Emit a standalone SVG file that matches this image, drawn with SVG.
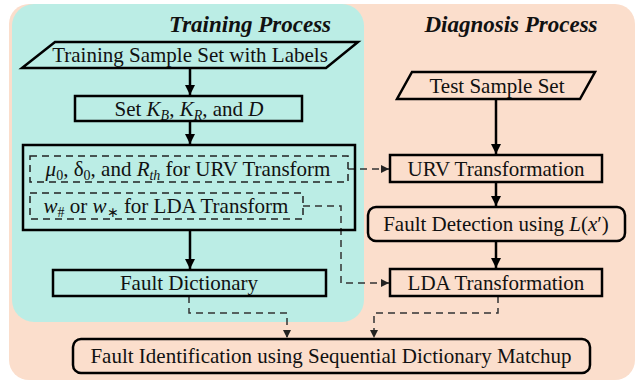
<svg xmlns="http://www.w3.org/2000/svg" width="639" height="382" viewBox="0 0 639 382">
<style>
.t{font-family:'Liberation Serif','Times New Roman',serif;font-size:21px;fill:#111;text-anchor:middle}
.h{font-family:'Liberation Serif','Times New Roman',serif;font-size:23px;font-weight:bold;font-style:italic;fill:#111;text-anchor:middle}
.i{font-style:italic}
.s{font-size:14px}
.box{fill:none;stroke:#000;stroke-width:2.5}
.dbox{fill:none;stroke:#222;stroke-width:1.5;stroke-dasharray:7 5}
.arr{fill:none;stroke:#000;stroke-width:2.5}
.dash{fill:none;stroke:#333;stroke-width:1.5;stroke-dasharray:7 5}
</style>
<defs>
<marker id="ah" markerWidth="10" markerHeight="10" refX="10" refY="5" orient="auto" markerUnits="userSpaceOnUse">
<path d="M0,0 L10,5 L0,10 Z" fill="#000"/>
</marker>
<marker id="dh" markerWidth="8" markerHeight="8" refX="8" refY="4" orient="auto" markerUnits="userSpaceOnUse">
<path d="M0,0 L8,4 L0,8 Z" fill="#222"/>
</marker>
</defs>
<g id="backgrounds">
<rect x="9" y="4" width="626" height="376" rx="20" fill="#fbdecc"/>
<rect x="12" y="4" width="352" height="318" rx="22" fill="#bbede5"/>
</g>
<g id="titles">
<text class="h" x="250" y="32">Training Process</text>
<text class="h" x="511" y="32">Diagnosis Process</text>
</g>
<g id="connectors">
<line class="arr" x1="190" y1="68" x2="190" y2="95" marker-end="url(#ah)"/>
<line class="arr" x1="190" y1="121" x2="190" y2="144" marker-end="url(#ah)"/>
<line class="arr" x1="190" y1="230" x2="190" y2="269" marker-end="url(#ah)"/>
<line class="arr" x1="496" y1="99" x2="496" y2="154" marker-end="url(#ah)"/>
<line class="arr" x1="496" y1="182" x2="496" y2="206" marker-end="url(#ah)"/>
<line class="arr" x1="496" y1="241" x2="496" y2="268" marker-end="url(#ah)"/>
<path class="dash" d="M348,169 H389" marker-end="url(#dh)"/>
<path class="dash" d="M303,206 H341 V283 H389" marker-end="url(#dh)"/>
<path class="dash" d="M189,296 V313 H287 V338" marker-end="url(#dh)"/>
<path class="dash" d="M498,296 V313 H374 V338" marker-end="url(#dh)"/>
</g>
<g id="training-sample-set">
<polygon class="box" points="55,42 358,42 326,68 22,68"/>
<text class="t" x="190" y="62">Training Sample Set with Labels</text>
</g>
<g id="set-parameters">
<rect class="box" x="75" y="96" width="227" height="25"/>
<text class="t" x="189" y="116">Set <tspan class="i">K</tspan><tspan class="s i" dy="4">B</tspan><tspan dy="-4">, </tspan><tspan class="i">K</tspan><tspan class="s i" dy="4">R</tspan><tspan dy="-4">, and </tspan><tspan class="i">D</tspan></text>
</g>
<g id="parameters">
<rect class="box" x="23" y="145" width="332" height="85"/>
</g>
<g id="urv-params">
<rect class="dbox" x="30" y="156" width="318" height="26"/>
<text class="t" x="188" y="176"><tspan class="i">μ</tspan><tspan class="s" dy="4">0</tspan><tspan dy="-4">, δ</tspan><tspan class="s" dy="4">0</tspan><tspan dy="-4">, and </tspan><tspan class="i">R</tspan><tspan class="s i" dy="4">th</tspan><tspan dy="-4"> for URV Transform</tspan></text>
</g>
<g id="lda-params">
<rect class="dbox" x="30" y="193" width="273" height="26"/>
<text class="t" x="166" y="213"><tspan class="i">w</tspan><tspan class="s" dy="4">#</tspan><tspan dy="-4"> or </tspan><tspan class="i">w</tspan><tspan class="s" dy="4">∗</tspan><tspan dy="-4"> for LDA Transform</tspan></text>
</g>
<g id="fault-dictionary">
<rect class="box" x="53" y="270" width="273" height="26"/>
<text class="t" x="189" y="290">Fault Dictionary</text>
</g>
<g id="test-sample-set">
<polygon class="box" points="412,72 595,72 580,99 397,99"/>
<text class="t" x="497" y="93">Test Sample Set</text>
</g>
<g id="urv-transformation">
<rect class="box" x="390" y="155" width="212" height="27"/>
<text class="t" x="496" y="176">URV Transformation</text>
</g>
<g id="fault-detection">
<rect class="box" x="368" y="207" width="257" height="34" rx="8"/>
<text class="t" x="496" y="231">Fault Detection using <tspan class="i">L</tspan>(<tspan class="i">x</tspan>′)</text>
</g>
<g id="lda-transformation">
<rect class="box" x="390" y="269" width="212" height="27"/>
<text class="t" x="496" y="290">LDA Transformation</text>
</g>
<g id="fault-identification">
<rect class="box" x="73" y="339" width="517" height="34" rx="8"/>
<text class="t" x="331" y="363">Fault Identification using Sequential Dictionary Matchup</text>
</g>
</svg>
